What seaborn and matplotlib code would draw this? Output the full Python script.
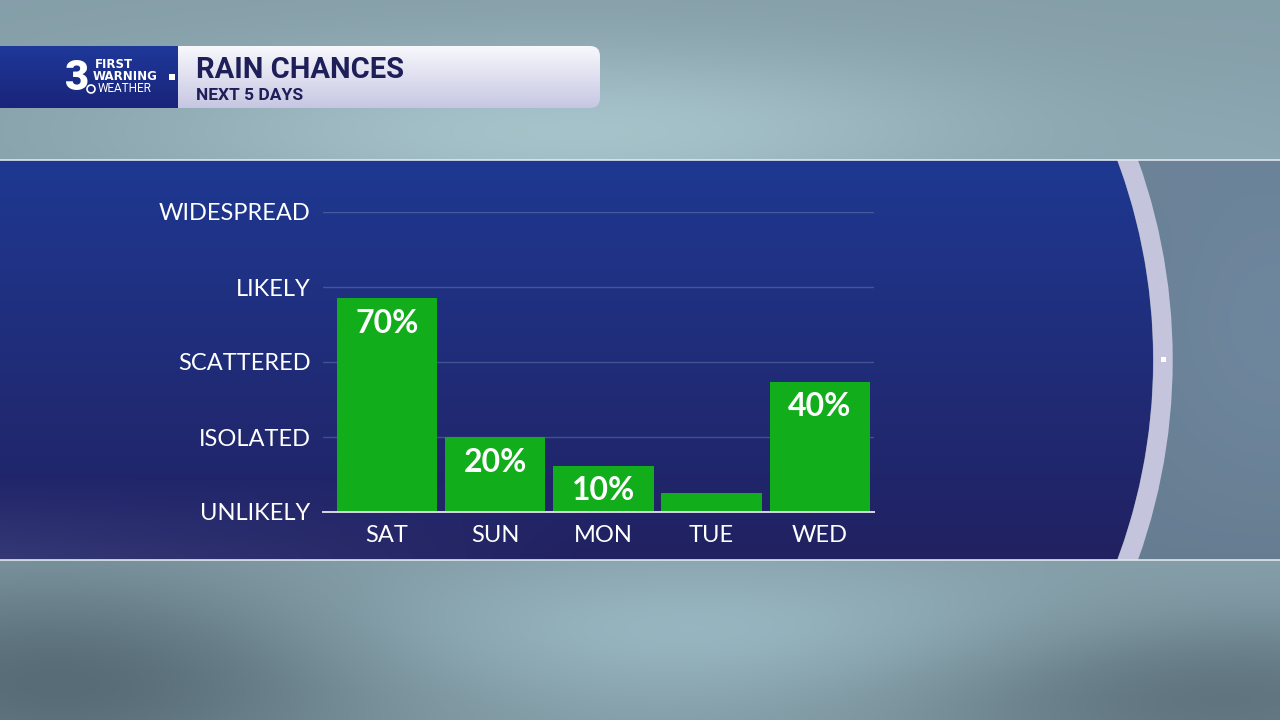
import numpy as np
import matplotlib
matplotlib.use("Agg")
import matplotlib.pyplot as plt
from matplotlib.path import Path
from matplotlib.patches import PathPatch, Rectangle, Circle, FancyBboxPatch
import seaborn as sns

sns.set_style("white")
plt.rcParams['font.family'] = ['Lato', 'DejaVu Sans']

# data
days = ["SAT", "SUN", "MON", "TUE", "WED"]
pct_labels = ["70%", "20%", "10%", "", "40%"]
# bar heights in "coverage level" units (0 = unlikely ... 4 = widespread)
heights = [2.85, 1.0, 0.62, 0.26, 1.74]
levels = ["UNLIKELY", "ISOLATED", "SCATTERED", "LIKELY", "WIDESPREAD"]

title = "RAIN CHANCES"
subtitle = "NEXT 5 DAYS"

W, H = 1280, 720
fig = plt.figure(figsize=(12.8, 7.2), dpi=100)

# ---- backdrop layer (pixel coords)
bg = fig.add_axes([0, 0, 1, 1])
bg.set_xlim(0, W)
bg.set_ylim(H, 0)
bg.axis('off')

yy, xx = np.mgrid[0:1:180j, 0:1:320j]
def blob(cx, cy, sx, sy):
    return np.exp(-(((xx - cx) / sx) ** 2 + ((yy - cy) / sy) ** 2))
base = np.array([0.52, 0.62, 0.66])
img = np.ones((180, 320, 3)) * base
img += blob(0.45, 0.18, 0.35, 0.12)[..., None] * np.array([0.13, 0.14, 0.13])
img += blob(0.55, 0.88, 0.30, 0.10)[..., None] * np.array([0.08, 0.10, 0.10])
img -= blob(0.05, 0.95, 0.25, 0.15)[..., None] * np.array([0.18, 0.20, 0.20])
img -= blob(0.95, 0.97, 0.25, 0.12)[..., None] * np.array([0.15, 0.17, 0.17])
img += blob(1.0, 0.45, 0.12, 0.25)[..., None] * np.array([0.05, 0.06, 0.07])
bg.imshow(np.clip(img, 0, 1), extent=(0, W, H, 0), aspect='auto', zorder=0,
          interpolation='bicubic')

# tinted band behind the panel
bg.add_patch(Rectangle((0, 160), W, 400, facecolor='#1f2f5c', alpha=0.3,
                       edgecolor='none', zorder=1))
bg.plot([0, W], [160, 160], color='#dfe6ee', lw=1.2, zorder=5)
bg.plot([0, W], [560, 560], color='#dfe6ee', lw=1.2, zorder=5)

# blue panel with curved right edge
cx, cy, r = 579, 360, 574
ang = np.linspace(np.arcsin(-200 / r), np.arcsin(200 / r), 60)
arc = np.column_stack([cx + r * np.cos(ang), cy + r * np.sin(ang)])
verts = np.vstack([[[0, 160]], arc, [[0, 560]], [[0, 160]]])
codes = [Path.MOVETO] + [Path.LINETO] * (len(verts) - 2) + [Path.CLOSEPOLY]
panel = PathPatch(Path(verts, codes), facecolor='none', edgecolor='none')
bg.add_patch(panel)
gy, gx = np.mgrid[0:1:100j, 0:1:100j]
top_c = np.array([0.12, 0.22, 0.57])
bot_c = np.array([0.13, 0.13, 0.38])
pimg = top_c * (1 - gy[..., None]) + bot_c * gy[..., None]
pimg += (np.clip(gy - 0.8, 0, 1) * 5 * np.clip(0.5 - gx, 0, 1))[..., None] * np.array([0.16, 0.18, 0.16])
pim = bg.imshow(np.clip(pimg, 0, 1), extent=(0, 1180, 560, 160), aspect='auto',
                zorder=2, interpolation='bicubic')
pim.set_clip_path(panel)

# ring (right side only)
ring = Circle((cx, cy), r + 10, facecolor='none', edgecolor='#c4c4dc', lw=14, zorder=3)
bg.add_patch(ring)
ring.set_clip_path(Rectangle((cx, 160), W - cx, 400, transform=bg.transData))
bg.add_patch(Rectangle((1161, 357), 5, 5, facecolor='white', edgecolor='none', zorder=4))

# header banner
banner = FancyBboxPatch((160, 46), 440, 62, boxstyle="round,pad=0,rounding_size=10",
                        facecolor='none', edgecolor='none')
bg.add_patch(banner)
hy = np.linspace(0, 1, 50)[:, None] * np.ones((50, 10))
bimg = np.array([0.97, 0.97, 0.99]) * (1 - hy[..., None]) + np.array([0.78, 0.78, 0.89]) * hy[..., None]
bim = bg.imshow(bimg, extent=(160, 600, 108, 46), aspect='auto', zorder=6)
bim.set_clip_path(banner)

limg = np.array([0.12, 0.22, 0.60]) * (1 - hy[..., None]) + np.array([0.10, 0.14, 0.48]) * hy[..., None]
bg.imshow(limg, extent=(0, 178, 108, 46), aspect='auto', zorder=7)

bg.text(196, 70, title, color='#1e1e58', fontsize=21, fontweight='bold',
        family=['Roboto', 'DejaVu Sans'], va='center', ha='left', zorder=8)
bg.text(196, 95, subtitle, color='#1e1e58', fontsize=12.5, fontweight='bold',
        family=['Roboto', 'DejaVu Sans'], va='center', ha='left', zorder=8)

# station logo
bg.text(77, 78, "3", color='white', fontsize=30, fontweight='heavy',
        family=['Roboto', 'DejaVu Sans'], va='center', ha='center', zorder=8)
bg.text(95, 65, "FIRST", color='white', fontsize=8.5, fontweight='heavy',
        family=['DejaVu Sans'], va='center', ha='left', zorder=8)
bg.text(93, 77, "WARNING", color='white', fontsize=8.5, fontweight='heavy',
        family=['DejaVu Sans'], va='center', ha='left', zorder=8)
bg.text(98, 89, "WEATHER", color='white', fontsize=8.5, fontweight='normal',
        family=['Roboto', 'DejaVu Sans'], va='center', ha='left', zorder=8)
bg.add_patch(Circle((91, 89), 4, facecolor='none', edgecolor='white', lw=1.2, zorder=8))
bg.add_patch(Rectangle((169, 74), 6, 6, facecolor='white', edgecolor='none', zorder=8))

# ---- the chart
ax = fig.add_axes([323 / W, (H - 512) / H, 551 / W, 300 / H])
ax.patch.set_alpha(0)
sns.barplot(x=days, y=heights, color='#12ad1b', saturation=1, width=0.93,
            edgecolor='none', linewidth=0, ax=ax, zorder=3)
ax.set_xlim(-0.59, 4.5)
ax.set_ylim(0, 4)
ax.set_yticks(range(len(levels)))
ax.set_yticklabels(levels)
ax.yaxis.grid(True, color='white', alpha=0.18, lw=1)
ax.set_axisbelow(True)
for s in ['top', 'right', 'left']:
    ax.spines[s].set_visible(False)
ax.spines['bottom'].set_color('#d8d8e6')
ax.spines['bottom'].set_linewidth(1.4)
ax.spines['bottom'].set_zorder(4)
ax.tick_params(axis='y', length=0, pad=9, labelsize=17, labelcolor='white')
ax.tick_params(axis='x', length=3, width=3.2, color='white', pad=6,
               labelsize=17, labelcolor='white')
ax.set_xlabel("")
ax.set_ylabel("")

for i, (h, lab) in enumerate(zip(heights, pct_labels)):
    if lab:
        ax.annotate(lab, (i, h), xytext=(0, -18), textcoords='offset points',
                    ha='center', va='center', color='white', fontsize=23,
                    fontweight='bold', zorder=5)

fig.savefig("out.png", dpi=100)
